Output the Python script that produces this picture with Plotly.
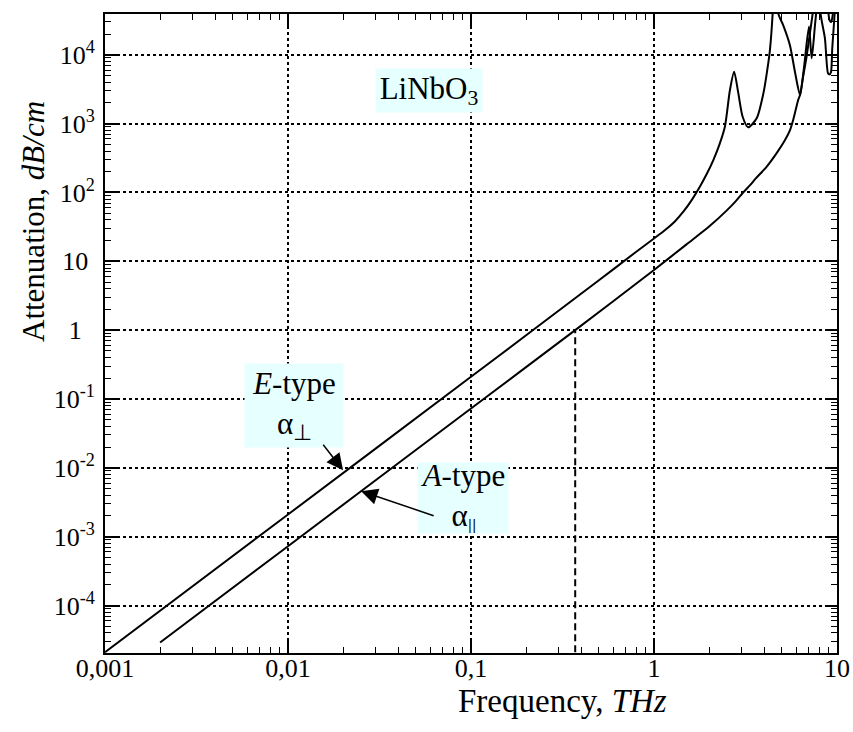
import math
import plotly.graph_objects as go

# ---- data ----
e_freq = [0.001, 0.01, 0.1, 0.5, 0.8, 1.0, 1.15, 1.3, 1.45, 1.61, 1.78, 1.95, 2.11, 2.28, 2.44, 2.60, 2.74, 2.89,
          3.05, 3.27, 3.64, 3.96, 4.21, 4.30, 4.45, 4.56, 4.77, 5.08, 5.53, 5.89, 6.28,
          6.60, 7.03, 7.27, 7.58, 7.80, 7.94, 8.15, 8.59, 8.93, 9.10, 9.27, 9.42, 9.67, 9.85, 10.0]
e_att = [2.1e-5, 2.1e-3, 0.21, 5.3, 13.8, 21.5, 28.5, 38, 53, 78, 121, 190, 296, 500, 901, 3080, 5680, 2750,
         1260, 884, 1195, 2750, 7520, 1.17e4, 4.0e4, 2.0e5, 4.0e4, 2.7e4, 1.38e4, 5680, 2600,
         6500, 2.57e4, 8900, 2.7e4, 6.0e4, 1.2e5, 3.8e4, 1.74e4, 5400, 5200, 5600, 1.24e4, 3.4e4, 8e4, 2e5]

a_freq = [0.002, 0.01, 0.1, 0.371, 1.0, 1.5, 2.0, 2.5, 2.8, 3.07, 3.35, 3.6, 4.12, 4.7, 5.2, 5.53, 5.77,
          6.0, 6.15, 6.28, 6.5, 6.8, 7.1, 7.4, 7.6, 8.2, 8.9, 9.1, 9.3, 9.5, 9.7, 10.0]
a_att = [2.9e-5, 7.27e-4, 0.0727, 1.0, 7.5, 17.5, 32, 55, 75, 100, 128, 160, 236, 380, 580, 800, 1150,
         1750, 2250, 2600, 4500, 9000, 2.0e4, 4.5e4, 1.5e5, 2e5, 5e4, 3.2e4, 3.0e4, 4.0e4, 8e4, 2e5]

marker_freq = [0.371, 0.371]
marker_att = [1e-5, 1.0]

x_tickvals = [0.001, 0.01, 0.1, 1, 10]
x_ticktext = ["0,001", "0,01", "0,1", "1", "10"]
y_tickvals = [1e-4, 1e-3, 1e-2, 1e-1, 1, 10, 1e2, 1e3, 1e4]
y_ticktext = ["10<sup>-4</sup>", "10<sup>-3</sup>", "10<sup>-2</sup>", "10<sup>-1</sup>",
              "1\u00a0\u00a0", "10\u00a0", "10<sup>2</sup>", "10<sup>3</sup>", "10<sup>4</sup>"]

FONT = "Liberation Serif, Times New Roman, serif"
BG = "#E6FFFF"

# plot area in pixels
L, R, T, B = 105, 16, 14, 79
W, H = 853, 732
PW, PH = W - L - R, H - T - B


def px(xp):
    return (xp - L) / PW


def py(yp):
    return (H - B - yp) / PH


fig = go.Figure()
fig.add_trace(go.Scatter(x=e_freq, y=e_att, mode="lines", line=dict(color="black", width=2, shape="spline", smoothing=0.7),
                         showlegend=False, hoverinfo="skip"))
fig.add_trace(go.Scatter(x=a_freq, y=a_att, mode="lines", line=dict(color="black", width=2, shape="spline", smoothing=0.7),
                         showlegend=False, hoverinfo="skip"))
fig.add_trace(go.Scatter(x=marker_freq, y=marker_att, mode="lines", line=dict(color="black", width=2, dash="7px,4px"),
                         showlegend=False, hoverinfo="skip"))

axis_common = dict(
    type="log", showline=True, linecolor="black", linewidth=2, mirror="ticks", automargin=False,
    ticks="inside", ticklen=12, tickwidth=1.5, tickcolor="black",
    showgrid=True, gridcolor="black", griddash="dot", gridwidth=1.5,
    zeroline=False, tickfont=dict(family=FONT, size=26, color="black"),
    minor=dict(ticks="inside", ticklen=6, tickwidth=1.2, tickcolor="black", dtick="D1", showgrid=False),
)

fig.update_layout(
    width=W, height=H, margin=dict(l=L, r=R, t=T, b=B),
    paper_bgcolor="white", plot_bgcolor="white",
    font=dict(family=FONT, color="black"),
    xaxis=dict(axis_common, range=[-3, 1], tickmode="array", tickvals=x_tickvals, ticktext=x_ticktext, ticklabelstandoff=-9),
    yaxis=dict(axis_common, range=[-4.69, 4.593], tickmode="array", tickvals=y_tickvals, ticktext=y_ticktext, ticklabelstandoff=3),
)

ann = []
# axis titles
ann.append(dict(text="Attenuation, <i>dB/cm</i>", xref="paper", yref="paper", x=px(33), y=py(222),
                textangle=-90, showarrow=False, font=dict(family=FONT, size=31), xanchor="center", yanchor="middle"))
ann.append(dict(text="Frequency, <i>THz</i>", xref="paper", yref="paper", x=px(562), y=py(701),
                showarrow=False, font=dict(family=FONT, size=33), xanchor="center", yanchor="middle"))
# labels with light background
ann.append(dict(text="LiNbO<sub>3</sub>", xref="paper", yref="paper", x=px(429), y=py(90.5), showarrow=False,
                font=dict(family=FONT, size=31), bgcolor=BG, width=106, height=43, borderpad=0,
                xanchor="center", yanchor="middle"))
ann.append(dict(text="<i>E</i>-type<br>α<sub>⊥</sub>", xref="paper", yref="paper", x=px(294), y=py(405.5), showarrow=False,
                font=dict(family=FONT, size=31), bgcolor=BG, width=98, height=83, borderpad=0,
                xanchor="center", yanchor="middle"))
ann.append(dict(text="<i>A</i>-type<br>α<sub>||</sub>", xref="paper", yref="paper", x=px(463), y=py(498), showarrow=False,
                font=dict(family=FONT, size=31), bgcolor=BG, width=90, height=70, borderpad=0,
                xanchor="center", yanchor="middle"))
# arrows (tips on the curves, data coordinates)
ann.append(dict(text="", x=math.log10(0.02), y=math.log10(0.0092), xref="x", yref="y", showarrow=True,
                ax=-21, ay=-27, arrowhead=2, arrowsize=2.2, arrowwidth=1.5, arrowcolor="black", standoff=0))
ann.append(dict(text="", x=math.log10(0.0251), y=math.log10(0.00458), xref="x", yref="y", showarrow=True,
                ax=74, ay=25, arrowhead=2, arrowsize=2.2, arrowwidth=1.5, arrowcolor="black", standoff=0))
fig.update_layout(annotations=ann)

fig.write_html("out.html")
